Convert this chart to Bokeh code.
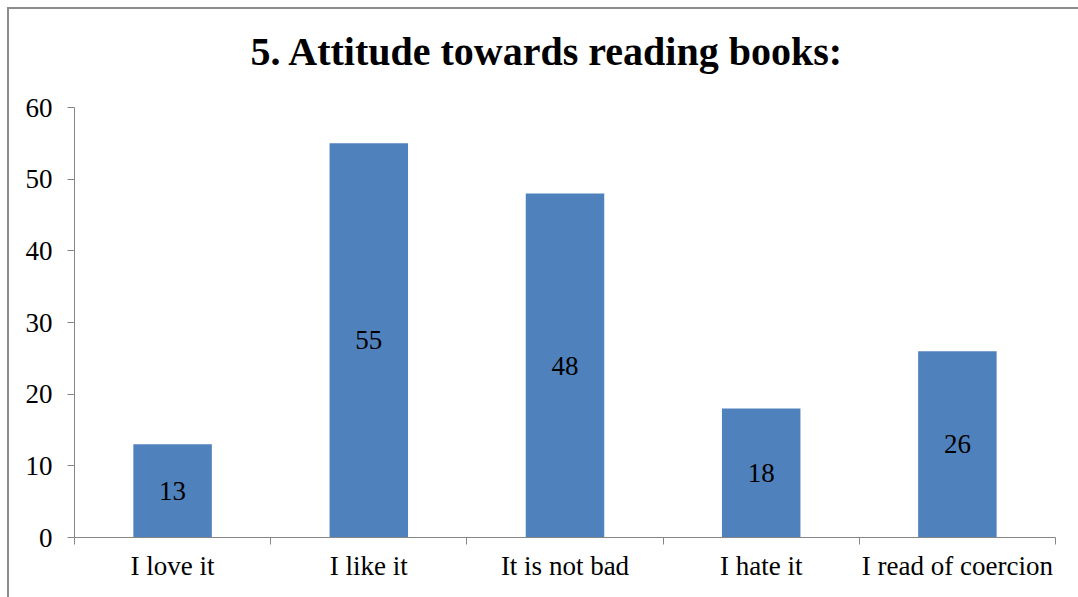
from bokeh.plotting import figure
from bokeh.layouts import column
from bokeh.models import ColumnDataSource, Range1d, FixedTicker, Title
from bokeh.core.properties import value
from bokeh.embed import file_html
from bokeh.resources import INLINE

categories = ["I love it", "I like it", "It is not bad", "I hate it", "I read of coercion"]
counts = [13, 55, 48, 18, 26]
y_ticks = [0, 10, 20, 30, 40, 50, 60]
title_text = "5. Attitude towards reading books:"

FONT = "Liberation Serif"
BAR = "#4F81BD"
AXIS = "#868686"
EDGE = "#8C8C8C"

centers = [i + 0.5 for i in range(len(categories))]
edges = list(range(len(categories) + 1))

src = ColumnDataSource(dict(
    x=centers,
    top=counts,
    mid=[c / 2 for c in counts],
    label=[str(c) for c in counts],
))

p = figure(width=1069, height=588, output_backend="svg", toolbar_location=None,
           x_range=Range1d(0, len(categories)), y_range=Range1d(0, 60),
           min_border_left=65, min_border_right=23, min_border_top=98,
           min_border_bottom=60)
p.outline_line_color = None
p.grid.visible = False
p.background_fill_color = "white"
p.border_fill_color = "white"

p.title = Title(text=title_text, text_font=FONT, text_font_size="40px",
                text_font_style="bold", text_color="black",
                align="left", offset=176, standoff=0)

# blank gap between the chart title and the plot frame
p.add_layout(Title(text=" ", text_font_size="2px", standoff=30), "above")

p.vbar(x="x", top="top", bottom=0, width=0.4, source=src,
       fill_color=BAR, line_color=None)

p.text(x="x", y="mid", text="label", source=src,
       text_font=value(FONT), text_font_size="27px", text_color="black",
       text_align="center", text_baseline="middle")

# x axis: labels at category centres, tick marks at category edges
xa = p.xaxis[0]
xa.ticker = FixedTicker(ticks=centers, minor_ticks=edges)
xa.major_label_overrides = {c: name for c, name in zip(centers, categories)}
xa.major_tick_out = 0
xa.major_tick_in = 0
xa.minor_tick_out = 7
xa.minor_tick_in = 0
xa.minor_tick_line_color = AXIS
xa.axis_line_color = AXIS
xa.major_label_text_font = FONT
xa.major_label_text_font_size = "27px"
xa.major_label_text_color = "black"
xa.major_label_standoff = 6

ya = p.yaxis[0]
ya.ticker = FixedTicker(ticks=y_ticks, minor_ticks=[])
ya.major_tick_out = 7
ya.major_tick_in = 0
ya.major_tick_line_color = AXIS
ya.axis_line_color = AXIS
ya.major_label_text_font = FONT
ya.major_label_text_font_size = "27px"
ya.major_label_text_color = "black"
ya.major_label_standoff = 15

# chart area with its left and top border
root = column(p, styles={"margin-left": "7px", "margin-top": "7px",
                         "border-left": f"2px solid {EDGE}",
                         "border-top": f"2px solid {EDGE}"})

open("out.html", "w").write(file_html(root, INLINE))
